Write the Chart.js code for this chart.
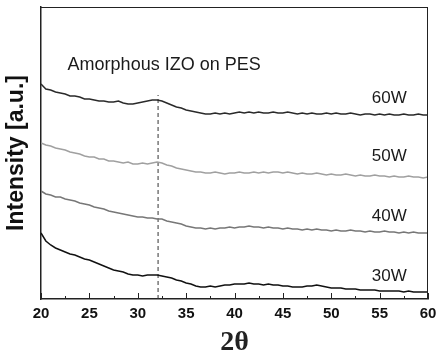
<!DOCTYPE html>
<html>
<head>
<meta charset="utf-8">
<script src="https://cdn.jsdelivr.net/npm/chart.js@4"></script>
<style>
html,body{margin:0;padding:0;background:#fff;}
canvas{display:block;}
</style>
</head>
<body>
<canvas id="c" width="437" height="360"></canvas>
<script>
// 2θ positions (degrees)
const twoTheta = [
 20,20.5,21,21.5,22,22.5,23,23.5,24,24.5,
 25,25.5,26,26.5,27,27.5,28,28.5,29,29.5,
 30,30.5,31,31.5,32,32.5,33,33.5,34,34.5,
 35,35.5,36,36.5,37,37.5,38,38.5,39,39.5,
 40,40.5,41,41.5,42,42.5,43,43.5,44,44.5,
 45,45.5,46,46.5,47,47.5,48,48.5,49,49.5,
 50,50.5,51,51.5,52,52.5,53,53.5,54,54.5,
 55,55.5,56,56.5,57,57.5,58,58.5,59,59.5,
 60];

// Intensity (a.u., offset stacked)
const int60W = [
 215,210,209,207,206,205,203,203,202,200,
 200,199,198,198,197,197,198,196,195,195,
 196,197,198,199,199,198,196,194,192,191,
 189,188,187,186,185,185,186,185,186,185,
 186,187,186,187,186,187,186,186,187,186,
 186,187,186,185,186,185,186,185,185,186,
 185,186,185,185,186,185,184,185,185,184,
 185,184,185,184,184,185,184,184,185,184,
 184];
const int50W = [
 156,154,153,151,150,149,147,146,145,143,
 142,142,140,140,138,138,137,136,137,135,
 135,136,135,136,137,136,134,133,131,130,
 129,128,127,127,126,126,127,126,125,126,
 126,127,126,126,127,126,127,126,127,127,
 126,127,126,125,126,125,125,126,125,124,
 125,124,124,125,124,123,124,123,123,124,
 123,123,122,123,122,122,123,122,122,121,
 122];
const int40W = [
 108,105,104,102,102,100,99,98,96,95,
 94,92,91,90,88,87,86,85,84,83,
 82,82,81,81,80,80,78,77,76,75,
 73,72,71,71,70,71,70,71,71,72,
 71,72,72,73,72,72,71,72,71,71,
 70,71,70,70,69,70,69,70,69,69,
 68,69,68,68,69,68,68,67,68,67,
 67,68,67,67,66,67,66,67,66,66,
 66];
const int30W = [
 66,58,54,51,49,47,45,44,42,40,
 39,37,35,33,31,29,28,27,25,24,
 24,23,24,24,24,23,22,21,19,18,
 16,15,13,12,12,13,12,13,14,14,
 15,15,15,16,15,15,14,15,14,14,
 13,13,12,12,12,13,13,14,13,12,
 11,11,11,10,10,10,9,9,9,9,
 8,8,8,8,8,7,8,7,7,7,
 7];

const seriesNames = ['60W','50W','40W','30W'];
const seriesData = [int60W, int50W, int40W, int30W];
const seriesColors = ['#2a2a2a','#a0a0a0','#777777','#111111'];
// label anchor (2θ, intensity) for series names
const labelX = [57.8, 57.8, 57.8, 57.8];
const labelY = [201, 143, 82.5, 22.5];

const xTicks = [20,25,30,35,40,45,50,55,60];
const peakLine = [32.1, 0, 204];   // x, yFrom, yTo
const titleText = 'Amorphous IZO on PES';
const titleAt = [22.75, 234];
const xTitle = '2θ';
const yTitle = 'Intensity [a.u.]';

const datasets = seriesData.map((arr, i) => ({
  label: seriesNames[i],
  data: arr.map((v, j) => ({x: twoTheta[j], y: v})),
  borderColor: seriesColors[i],
  borderWidth: 1.5,
  pointRadius: 0,
  fill: false,
  tension: 0
}));
datasets.push({
  label: 'peak',
  data: [{x: peakLine[0], y: peakLine[1]}, {x: peakLine[0], y: peakLine[2]}],
  borderColor: '#333',
  borderWidth: 1,
  borderDash: [4, 3],
  pointRadius: 0,
  fill: false
});

const deco = {
  id: 'deco',
  afterDatasetsDraw(chart) {
    const ctx = chart.ctx, a = chart.chartArea;
    const xs = chart.scales.x, ys = chart.scales.y;
    ctx.save();
    // frame
    ctx.strokeStyle = '#222';
    ctx.lineWidth = 1;
    ctx.beginPath();
    ctx.moveTo(a.left, a.top + 0.5); ctx.lineTo(a.right, a.top + 0.5);
    ctx.moveTo(a.right - 0.5, a.top); ctx.lineTo(a.right - 0.5, a.bottom);
    ctx.stroke();
    // inward ticks
    ctx.lineWidth = 1;
    ctx.beginPath();
    xs.ticks.forEach((t, i) => {
      const px = Math.round(xs.getPixelForValue(t.value)) + 0.5;
      ctx.moveTo(px, a.bottom); ctx.lineTo(px, a.bottom - 6);
      if (i < xs.ticks.length - 1) {
        const m = Math.round(xs.getPixelForValue(t.value + 2.5)) + 0.5;
        ctx.moveTo(m, a.bottom); ctx.lineTo(m, a.bottom - 3);
      }
    });
    ctx.stroke();
    // texts
    ctx.fillStyle = '#1a1a1a';
    ctx.font = '18px "Liberation Sans", Arial, sans-serif';
    ctx.textAlign = 'left';
    ctx.textBaseline = 'middle';
    ctx.fillText(titleText, xs.getPixelForValue(titleAt[0]), ys.getPixelForValue(titleAt[1]));
    ctx.font = '17px "Liberation Sans", Arial, sans-serif';
    ctx.textAlign = 'right';
    seriesNames.forEach((n, i) => {
      ctx.fillText(n, xs.getPixelForValue(labelX[i]), ys.getPixelForValue(labelY[i]));
    });
    ctx.restore();
  }
};

new Chart(document.getElementById('c'), {
  type: 'line',
  data: {datasets},
  options: {
    responsive: false,
    animation: false,
    devicePixelRatio: 1,
    layout: {padding: {top: 7, right: 9, left: 0, bottom: 0}},
    plugins: {legend: {display: false}, tooltip: {enabled: false}},
    scales: {
      x: {
        type: 'linear', min: 20, max: 60,
        afterBuildTicks: s => { s.ticks = xTicks.map(v => ({value: v})); },
        afterFit: s => { s.height = 61; s.paddingRight = 0; s.paddingLeft = 0; },
        grid: {display: false, drawTicks: false},
        border: {display: true, color: '#222', width: 1.5},
        ticks: {color: '#111', padding: 6, maxRotation: 0,
                font: {family: '"Liberation Sans", Arial, sans-serif', size: 15, weight: 'bold'}},
        title: {display: true, text: xTitle, color: '#222', padding: 0,
                font: {family: '"Liberation Serif", "DejaVu Serif", serif', size: 28, weight: 'bold'}}
      },
      y: {
        type: 'linear', min: 0, max: 292,
        afterFit: s => { s.width = 41; s.paddingTop = 0; s.paddingBottom = 0; },
        grid: {display: false, drawTicks: false},
        border: {display: true, color: '#222', width: 1.5},
        ticks: {display: false},
        title: {display: true, text: yTitle, color: '#111', padding: {top: 3, bottom: 0},
                font: {family: '"Liberation Sans", Arial, sans-serif', size: 23, weight: 'bold'}}
      }
    }
  },
  plugins: [deco]
});
</script>
</body>
</html>
